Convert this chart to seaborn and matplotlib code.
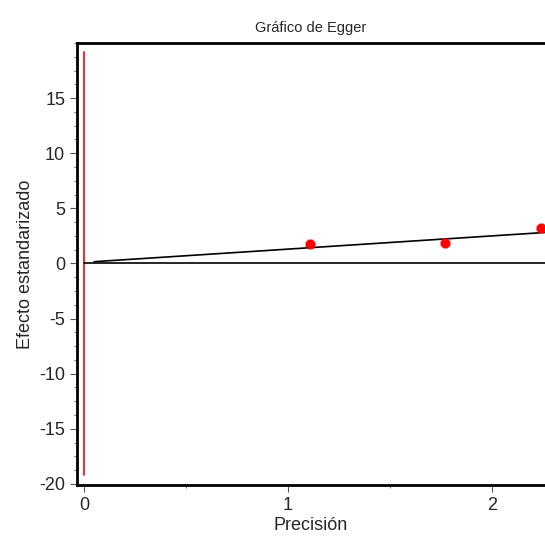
import numpy as np
import pandas as pd
from matplotlib import pyplot as plt
from matplotlib.ticker import AutoMinorLocator
import seaborn as sns

# values
precision = [1.11, 1.77, 2.24]
z_score = [1.8, 1.9, 3.2]
fit_x = [0.05, 2.3]
fit_intercept = 0.1
fit_slope = 1.2
ref_line_y = [-19.2, 19.2]

sns.set_style("white")
plt.rcParams['font.family'] = ['Liberation Sans', 'DejaVu Sans']
plt.rcParams['axes.unicode_minus'] = False

df = pd.DataFrame({"precision": precision, "z": z_score})
fit = pd.DataFrame({"x": fit_x, "y": [fit_intercept + fit_slope * v for v in fit_x]})

fig = plt.figure(figsize=(5.45, 5.41), dpi=100)
ax = fig.add_axes([0.1413, 0.1035, 0.8587, 0.817])

ax.plot([0, 0], ref_line_y, color="red", lw=1.2)
ax.axhline(0, xmin=(0 + 0.034) / 2.294, color="black", lw=1.2)
sns.lineplot(data=fit, x="x", y="y", color="black", lw=1.2, ax=ax)
sns.scatterplot(data=df, x="precision", y="z", color="red", marker="8",
                s=50, edgecolor="red", ax=ax, zorder=5)

ax.set_xlim(-0.034, 2.26)
ax.set_ylim(-20.1, 20)
ax.set_xticks([0, 1, 2])
ax.set_yticks([-20, -15, -10, -5, 0, 5, 10, 15])
ax.xaxis.set_minor_locator(AutoMinorLocator(2))
ax.yaxis.set_minor_locator(AutoMinorLocator(4))
ax.tick_params(which="both", direction="out", left=True, bottom=True,
               color="#555555", labelsize=13)
ax.tick_params(which="major", length=5)
ax.tick_params(which="minor", length=2.5)

for side in ["left", "bottom", "top"]:
    ax.spines[side].set_color("black")
    ax.spines[side].set_linewidth(2)
ax.spines["right"].set_visible(False)

ax.set_title("Gráfico de Egger", fontsize=10.5, pad=8)
ax.set_xlabel("Precisión", fontsize=13, labelpad=2)
ax.set_ylabel("Efecto estandarizado", fontsize=13)

plt.savefig("out.png", dpi=100)
